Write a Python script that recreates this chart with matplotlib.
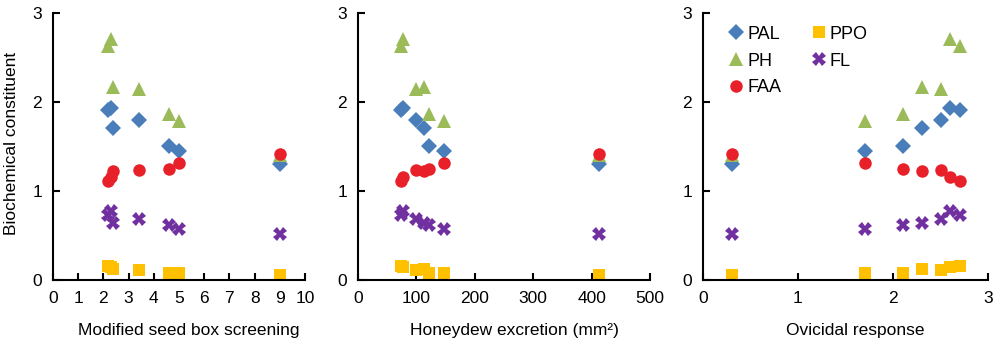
import matplotlib
matplotlib.use("Agg")
import matplotlib.pyplot as plt

plt.rcParams['font.family'] = ['Liberation Sans', 'DejaVu Sans']

# Seven varieties
seed_box = [9.0, 5.0, 4.6, 2.4, 3.4, 2.3, 2.2]
honeydew = [413, 148, 122, 113, 100, 77, 73]
ovicidal = [0.3, 1.7, 2.1, 2.3, 2.5, 2.6, 2.7]

PAL = [1.30, 1.45, 1.51, 1.71, 1.80, 1.93, 1.91]
PH = [1.40, 1.79, 1.87, 2.17, 2.15, 2.71, 2.63]
FAA = [1.42, 1.31, 1.25, 1.22, 1.23, 1.16, 1.11]
PPO = [0.05, 0.08, 0.08, 0.12, 0.11, 0.14, 0.16]
FL = [0.52, 0.57, 0.62, 0.64, 0.68, 0.78, 0.73]

series = [
    ("PAL", PAL, dict(marker='D', color='#4A7EBB', ms=8.5)),
    ("PH", PH, dict(marker='^', color='#9BBB59', ms=10)),
    ("FAA", FAA, dict(marker='o', color='#E8202A', ms=9.0)),
    ("PPO", PPO, dict(marker='s', color='#FFC000', ms=8.5)),
    ("FL", FL, dict(marker='X', color='#7030A0', ms=10)),
]

panels = [
    (seed_box, "Modified seed box screening", (0, 10), list(range(0, 11)), [0.053, 0.184, 0.252, 0.778]),
    (honeydew, "Honeydew excretion (mm\u00b2)", (0, 500), [0, 100, 200, 300, 400, 500], [0.358, 0.184, 0.292, 0.778]),
    (ovicidal, "Ovicidal response", (0, 3), [0, 1, 2, 3], [0.703, 0.184, 0.285, 0.778]),
]

fig = plt.figure(figsize=(10, 3.43), dpi=100)

for i, (xv, xlabel, xlim, xticks, pos) in enumerate(panels):
    ax = fig.add_axes(pos)
    for name, yv, st in series:
        ax.plot(xv, yv, linestyle='none', marker=st['marker'], color=st['color'],
                markersize=st['ms'], markeredgewidth=0, label=name)
    ax.set_xlim(*xlim)
    ax.set_ylim(0, 3)
    ax.set_xticks(xticks)
    ax.set_yticks([0, 1, 2, 3])
    for s in ['top', 'right']:
        ax.spines[s].set_visible(False)
    for s in ['left', 'bottom']:
        ax.spines[s].set_linewidth(1.5)
    ax.tick_params(direction='in', length=5, width=1.5, labelsize=12.5, pad=8)
    ax.set_xlabel(xlabel, fontsize=12.5)
    ax.xaxis.set_label_coords(0.5 + 10 / (pos[2] * 1000), -0.16)
    if i == 0:
        ax.set_ylabel("Biochemical constituent", fontsize=12.5, va='center')
        ax.yaxis.set_label_coords(-0.163, 0.51)
    if i == 2:
        ax.legend(ncol=2, loc='upper left', bbox_to_anchor=(0.06, 0.98), frameon=False,
                  fontsize=13, handletextpad=0.1, handlelength=1.0, columnspacing=1.6,
                  labelspacing=0.55, borderaxespad=0)

fig.savefig("out.png", dpi=100)
